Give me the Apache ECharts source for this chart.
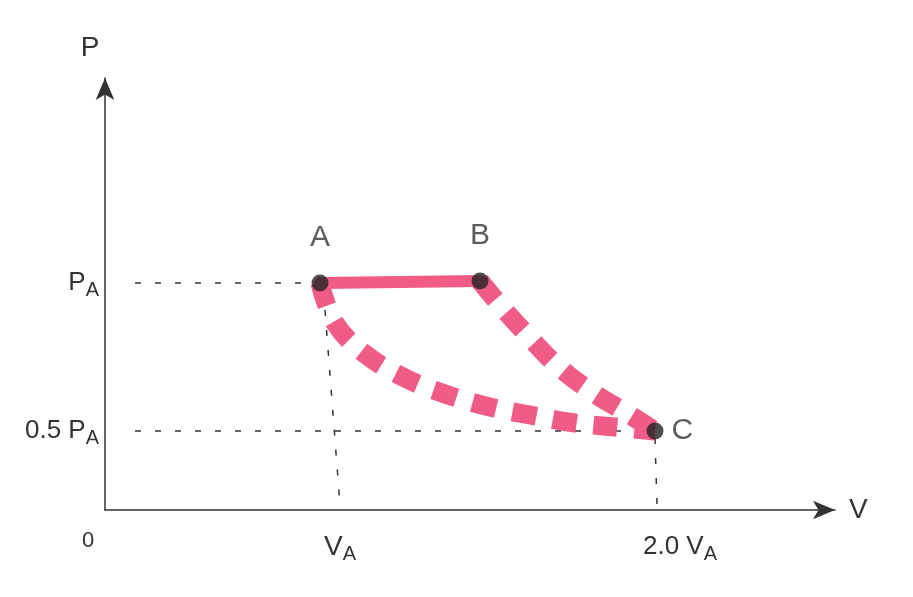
<!DOCTYPE html>
<html>
<head>
<meta charset="utf-8">
<title>P-V diagram</title>
<script src="https://cdn.jsdelivr.net/npm/echarts@6/dist/echarts.min.js"></script>
<style>
  html, body { margin: 0; padding: 0; background: #fff; }
  #chart { width: 913px; height: 597px; }
</style>
</head>
<body>
<div id="chart"></div>
<script>
// sketch coordinates (the drawing is not to scale)
const pointNames = ['A', 'B', 'C'];
const pointA = [2.15, 2.27];
const pointB = [3.75, 2.29];
const pointC = [5.5, 0.79];

// A -> B isobaric (solid)
const lineAB = [pointA, pointB];
// B -> C (dashed)
const lineBC = [pointB, [3.95, 2.05], [4.25, 1.72], [4.55, 1.42], [4.9, 1.16], [5.25, 0.95], pointC];
// A -> C (dashed curve)
const lineAC = [pointA, [2.3, 1.87], [2.6, 1.56], [3.0, 1.32], [3.4, 1.16], [3.85, 1.03], [4.25, 0.95], [4.7, 0.87], [5.1, 0.83], pointC];

// guide lines
const guidePA = [[0.3, 2.27], pointA];
const guideHalfPA = [[0.3, 0.79], pointC];
const guideVA = [[2.2, 2.0], [2.35, 0.05]];
const guide2VA = [[5.5, 0.72], [5.52, 0.05]];

// tick labels
const xTickValues = [0, 2.35, 5.5];
const xTickLabels = ['{o|0}', '{v|V}{s|A}', '{w|2.0 V}{s|A}'];
const yTickValues = [0.79, 2.27];
const yTickLabels = ['{t|0.5 P}{s|A}', '{t|P}{s|A}'];

const pink = '#f05c86';
const ink = '#333333';

let chart = echarts.init(document.getElementById('chart'));

function guide(data) {
  return {
    type: 'line', data: data, symbol: 'none', silent: true,
    lineStyle: { color: ink, width: 1.5, type: [6, 14] }, z: 1
  };
}

let option = {
  animation: false,
  textStyle: { fontFamily: 'Liberation Sans', color: ink },
  grid: { left: 105, right: 78, top: 78, bottom: 87 },
  xAxis: {
    type: 'value', min: 0, max: 7.3,
    name: 'V', nameLocation: 'end', nameGap: 14,
    nameTextStyle: { fontSize: 28, color: ink, verticalAlign: 'middle' },
    axisLine: { show: true, symbol: ['none', 'arrow'], symbolSize: [14, 22], lineStyle: { color: ink, width: 1.5 } },
    axisTick: { show: false },
    splitLine: { show: false },
    axisLabel: {
      customValues: xTickValues, margin: 20,
      formatter: function (v) { return xTickLabels[xTickValues.indexOf(v)]; },
      rich: {
        o: { fontSize: 22, color: ink, padding: [0, 34, 12, 0] },
        v: { fontSize: 28, color: ink },
        w: { fontSize: 26, color: ink, padding: [0, 0, 0, 50] },
        s: { fontSize: 20, color: ink, padding: [14, 0, 0, 0] }
      }
    }
  },
  yAxis: {
    type: 'value', min: 0, max: 4.32,
    name: 'P', nameLocation: 'end', nameGap: 16,
    nameTextStyle: { fontSize: 28, color: ink, padding: [0, 30, 0, 0] },
    axisLine: { show: true, symbol: ['none', 'arrow'], symbolSize: [14, 22], lineStyle: { color: ink, width: 1.5 } },
    axisTick: { show: false },
    splitLine: { show: false },
    axisLabel: {
      customValues: yTickValues, margin: 6,
      formatter: function (v) { return yTickLabels[yTickValues.indexOf(v)]; },
      rich: {
        t: { fontSize: 26, color: ink },
        s: { fontSize: 20, color: ink, padding: [14, 0, 0, 0] }
      }
    }
  },
  series: [
    guide(guidePA),
    guide(guideHalfPA),
    guide(guideVA),
    guide(guide2VA),
    {
      type: 'line', data: lineAB, symbol: 'none',
      lineStyle: { color: pink, width: 12, cap: 'round' }, z: 3
    },
    {
      type: 'line', data: lineBC, symbol: 'none', smooth: 0.4,
      lineStyle: { color: pink, width: 19, type: [24, 17] }, z: 3
    },
    {
      type: 'line', data: lineAC, symbol: 'none', smooth: 0.4,
      lineStyle: { color: pink, width: 19, type: [24, 17] }, z: 3
    },
    {
      type: 'scatter',
      data: [pointA, pointB, pointC].map(function (p, i) {
        return {
          value: p,
          label: {
            show: true, formatter: pointNames[i], fontSize: 30, color: ink,
            position: i === 2 ? 'right' : 'top', distance: i === 2 ? 8 : 22
          }
        };
      }),
      symbol: 'circle', symbolSize: 17,
      itemStyle: { color: '#222222' }, z: 5
    }
  ]
};
chart.setOption(option);
</script>
</body>
</html>
